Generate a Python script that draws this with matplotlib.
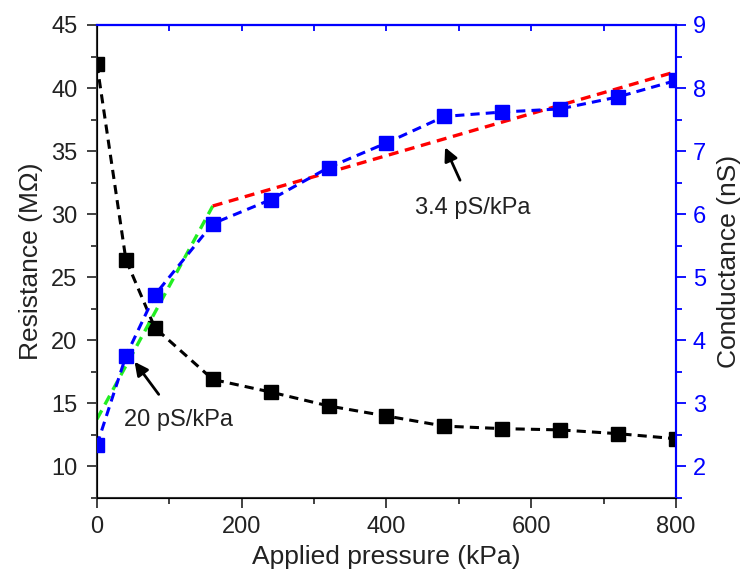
import matplotlib.pyplot as plt

plt.rcParams['font.family'] = ['Liberation Sans', 'DejaVu Sans']

pressure = [0, 40, 80, 160, 240, 320, 400, 480, 560, 640, 720, 800]
resistance = [41.9, 26.4, 21.0, 16.9, 15.9, 14.8, 14.0, 13.2, 13.0, 12.9, 12.6, 12.2]
conductance = [2.34, 3.75, 4.72, 5.85, 6.23, 6.74, 7.13, 7.55, 7.62, 7.67, 7.86, 8.12]

# linear fits (endpoints)
fit_low_x = [0, 160]
fit_low_y = [2.75, 6.13]
fit_high_x = [160, 800]
fit_high_y = [6.13, 8.26]

dash = (0, (3, 2))
txt = '#222222'

fig = plt.figure(figsize=(7.4, 5.76), dpi=100)
ax = fig.add_axes([0.131, 0.1354, 0.7825, 0.8212])
ax2 = ax.twinx()

ax.plot(pressure, resistance, color='black', ls=dash, lw=2.2,
        marker='s', ms=9.5, zorder=3)

ax2.plot(fit_low_x, fit_low_y, color='#22ee22', ls=dash, lw=2.4, zorder=2)
ax2.plot(fit_high_x, fit_high_y, color='red', ls=dash, lw=2.4, zorder=2)
ax2.plot(pressure, conductance, color='blue', ls=dash, lw=2.2,
         marker='s', ms=9.5, zorder=3)

ax.set_xlim(0, 800)
ax.set_ylim(7.5, 45)
ax2.set_ylim(1.5, 9)

ax.set_xticks(range(0, 801, 200))
ax.set_xticks(range(100, 800, 200), minor=True)
ax.set_yticks(range(10, 46, 5))
ax.set_yticks([7.5 + 5 * i for i in range(8)], minor=True)
ax2.set_yticks(range(2, 10))
ax2.set_yticks([1.5 + i for i in range(8)], minor=True)

ax.tick_params(axis='both', which='major', direction='out', length=7, width=1.3,
               labelsize=17, color='#333333', labelcolor=txt)
ax.tick_params(axis='both', which='minor', direction='out', length=4, width=1.3,
               color='#333333')
ax.tick_params(axis='y', which='major', pad=7)
ax.tick_params(axis='x', which='major', pad=6)
ax2.tick_params(axis='y', which='major', direction='out', length=7, width=1.3,
                labelsize=17, color='blue', labelcolor='blue', pad=5)
ax2.tick_params(axis='y', which='minor', direction='out', length=4, width=1.3,
                color='blue')

# top axis: blue, ticks pointing inward, no labels
top = ax.secondary_xaxis('top')
top.set_xticks(range(0, 801, 100))
top.tick_params(axis='x', direction='in', length=4, width=1.3, color='blue',
                labeltop=False)
top.spines['top'].set_color('blue')
top.spines['top'].set_linewidth(1.5)

for s in ['left', 'bottom']:
    ax.spines[s].set_color('#333333')
    ax.spines[s].set_linewidth(1.5)
for a in [ax, ax2]:
    a.spines['top'].set_color('blue')
    a.spines['right'].set_color('blue')
    a.spines['top'].set_linewidth(1.5)
    a.spines['right'].set_linewidth(1.5)

ax.set_xlabel('Applied pressure (kPa)', fontsize=19, color=txt, labelpad=5)
ax.set_ylabel('Resistance (M\u03a9)', fontsize=19, color=txt, labelpad=6)
ax2.set_ylabel('Conductance (nS)', fontsize=19, color=txt, labelpad=8)

ax2.annotate('20 pS/kPa', xy=(52, 3.66), xytext=(112, 2.73),
             fontsize=17, color=txt, ha='center', va='center',
             arrowprops=dict(arrowstyle='-|>', color='black', lw=2,
                             mutation_scale=20, shrinkA=11, shrinkB=0))
ax2.annotate('3.4 pS/kPa', xy=(481, 7.06), xytext=(519, 6.10),
             fontsize=17, color=txt, ha='center', va='center',
             arrowprops=dict(arrowstyle='-|>', color='black', lw=2,
                             mutation_scale=20, shrinkA=11, shrinkB=0))

plt.savefig('out.png', dpi=100)
